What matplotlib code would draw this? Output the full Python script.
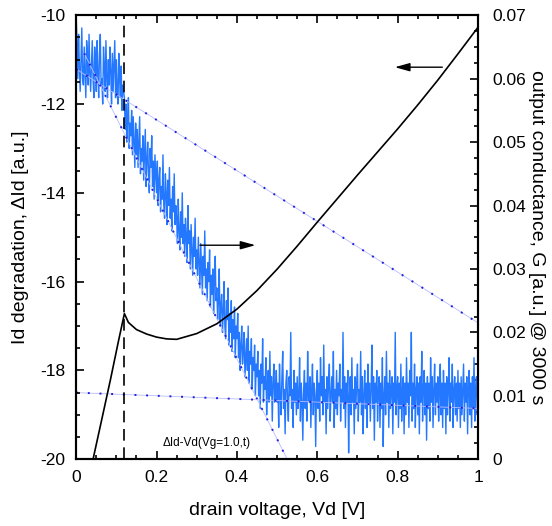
import numpy as np
import matplotlib
matplotlib.use("Agg")
import matplotlib.pyplot as plt
from matplotlib.ticker import MultipleLocator

plt.rcParams['font.family'] = ['Liberation Sans', 'DejaVu Sans']
plt.rcParams['axes.unicode_minus'] = False

# drain voltage vs Id degradation (left axis)
vd_black = [0.042, 0.065, 0.085, 0.105, 0.120, 0.130, 0.150, 0.175, 0.200, 0.225,
            0.250, 0.300, 0.350, 0.400, 0.450, 0.500, 0.550, 0.600, 0.650, 0.700,
            0.750, 0.800, 0.850, 0.900, 0.950, 1.000]
did_black = [-20.0, -19.05, -18.22, -17.35, -16.72, -16.92, -17.08, -17.18, -17.25, -17.29,
             -17.30, -17.17, -16.95, -16.62, -16.20, -15.72, -15.20, -14.66, -14.13, -13.60,
             -13.08, -12.56, -12.02, -11.46, -10.87, -10.27]

# output conductance, noisy trace (right axis), step 0.002 V
g_noise = [
    0.070, 0.066, 0.060, 0.067, 0.062, 0.058, 0.063, 0.068, 0.060, 0.059, 0.065, 0.061, 0.057,
    0.066, 0.064, 0.059, 0.067, 0.061, 0.058, 0.062, 0.066, 0.060, 0.057, 0.065, 0.063,
    0.058, 0.066, 0.061, 0.057, 0.064, 0.067, 0.059, 0.060, 0.056, 0.065, 0.062, 0.058, 0.066,
    0.060, 0.057, 0.063, 0.059, 0.065, 0.061, 0.056, 0.064, 0.058, 0.062, 0.066, 0.057,
    0.063, 0.058, 0.056, 0.064, 0.060, 0.057, 0.062, 0.055, 0.059, 0.058, 0.057, 0.052, 0.056,
    0.050, 0.054, 0.057, 0.049, 0.053, 0.051, 0.055, 0.048, 0.054, 0.050, 0.046, 0.053,
    0.048, 0.052, 0.046, 0.050, 0.054, 0.045, 0.049, 0.047, 0.051, 0.044, 0.048, 0.052, 0.043,
    0.047, 0.050, 0.045, 0.042, 0.049, 0.046, 0.051, 0.043, 0.047, 0.041, 0.048, 0.045,
    0.042, 0.047, 0.040, 0.044, 0.046, 0.039, 0.043, 0.041, 0.048, 0.040, 0.038, 0.045, 0.042,
    0.037, 0.044, 0.040, 0.046, 0.038, 0.041, 0.036, 0.043, 0.039, 0.045, 0.037, 0.040,
    0.038, 0.034, 0.041, 0.036, 0.033, 0.039, 0.035, 0.042, 0.034, 0.037, 0.032, 0.038, 0.035,
    0.031, 0.040, 0.034, 0.036, 0.030, 0.037, 0.033, 0.029, 0.035, 0.032, 0.038, 0.030,
    0.033, 0.029, 0.035, 0.031, 0.027, 0.034, 0.030, 0.026, 0.032, 0.029, 0.036, 0.027, 0.030,
    0.025, 0.031, 0.028, 0.033, 0.024, 0.029, 0.026, 0.030, 0.023, 0.028, 0.032, 0.025,
    0.027, 0.022, 0.025, 0.030, 0.021, 0.024, 0.026, 0.020, 0.023, 0.028, 0.021, 0.019, 0.025,
    0.022, 0.027, 0.018, 0.023, 0.020, 0.025, 0.017, 0.022, 0.019, 0.024, 0.016, 0.021,
    0.019, 0.023, 0.016, 0.020, 0.014, 0.018, 0.021, 0.015, 0.017, 0.020, 0.013, 0.016, 0.019,
    0.014, 0.021, 0.012, 0.017, 0.015, 0.019, 0.011, 0.016, 0.014, 0.018, 0.010, 0.015,
    0.013, 0.017, 0.010, 0.014, 0.008, 0.015, 0.012, 0.019, 0.009, 0.013, 0.011, 0.016, 0.007,
    0.012, 0.014, 0.009, 0.017, 0.010, 0.013, 0.006, 0.012, 0.015, 0.009, 0.011, 0.014,
    0.009, 0.012, 0.005, 0.015, 0.010, 0.007, 0.013, 0.017, 0.008, 0.011, 0.004, 0.012, 0.014,
    0.009, 0.006, 0.013, 0.010, 0.020, 0.008, 0.011, 0.005, 0.014, 0.009, 0.012, 0.007,
    0.013, 0.008, 0.010, 0.016, 0.006, 0.012, 0.009, 0.003, 0.011, 0.014, 0.008, 0.012, 0.006,
    0.017, 0.010, 0.009, 0.013, 0.005, 0.011, 0.015, 0.007, 0.012, 0.010, 0.002, 0.011,
    0.014, 0.008, 0.012, 0.006, 0.016, 0.010, 0.013, 0.007, 0.018, 0.009, 0.011, 0.004, 0.013,
    0.008, 0.012, 0.015, 0.006, 0.010, 0.013, 0.009, 0.017, 0.005, 0.011, 0.008, 0.014,
    0.007, 0.012, 0.010, 0.015, 0.006, 0.011, 0.009, 0.020, 0.008, 0.013, 0.005, 0.012, 0.009,
    0.014, 0.001, 0.010, 0.013, 0.007, 0.016, 0.009, 0.011, 0.004, 0.013, 0.008, 0.012,
    0.015, 0.006, 0.011, 0.009, 0.017, 0.007, 0.013, 0.004, 0.010, 0.014, 0.008, 0.012, 0.005,
    0.015, 0.009, 0.012, 0.006, 0.011, 0.018, 0.008, 0.013, 0.003, 0.012, 0.009, 0.014,
    0.006, 0.011, 0.013, 0.005, 0.012, 0.008, 0.016, 0.002, 0.010, 0.013, 0.007, 0.017, 0.009,
    0.012, 0.005, 0.014, 0.008, 0.011, 0.013, 0.004, 0.012, 0.009, 0.020, 0.007, 0.011,
    0.013, 0.005, 0.012, 0.008, 0.015, 0.006, 0.011, 0.013, 0.004, 0.012, 0.007, 0.016, 0.009,
    0.012, 0.005, 0.014, 0.010, 0.020, 0.006, 0.012, 0.008, 0.015, 0.005, 0.011, 0.013,
    0.007, 0.012, 0.004, 0.013, 0.009, 0.017, 0.006, 0.011, 0.014, 0.007, 0.012, 0.003, 0.013,
    0.008, 0.012, 0.006, 0.016, 0.009, 0.013, 0.005, 0.011, 0.015, 0.007, 0.012, 0.009,
    0.013, 0.006, 0.011, 0.015, 0.007, 0.012, 0.005, 0.014, 0.008, 0.012, 0.004, 0.013, 0.007,
    0.011, 0.016, 0.006, 0.012, 0.009, 0.015, 0.005, 0.011, 0.013, 0.007, 0.012, 0.006,
    0.014, 0.008, 0.012, 0.005, 0.013, 0.007, 0.011, 0.015, 0.006, 0.012, 0.009, 0.013, 0.004,
    0.011, 0.014, 0.007, 0.012, 0.005, 0.013, 0.008, 0.016, 0.006, 0.011, 0.013, 0.007,
    0.009]
vd_noise = [round(i * 0.002, 3) for i in range(len(g_noise))]

# linear fits (right axis)
fit1_x = [0.0, 1.0]
fit1_g = [0.0615, 0.0215]
fit2_x = [0.02, 0.525]
fit2_g = [0.064, 0.0]
fit3_x = [0.0, 1.0]
fit3_g = [0.0105, 0.0080]

vd_knee = 0.12

fig = plt.figure(figsize=(5.52, 5.26), dpi=100)
ax = fig.add_axes([0.138, 0.127, 0.728, 0.844])
ax2 = ax.twinx()
ax.set_zorder(ax2.get_zorder() + 1)
ax.patch.set_visible(False)

ax2.plot(vd_noise, g_noise, color='#2478ff', lw=1.0)
for fx, fg in [(fit1_x, fit1_g), (fit2_x, fit2_g), (fit3_x, fit3_g)]:
    ax2.plot(fx, fg, color='#b8bcff', lw=0.6)
    ax2.plot(fx, fg, color='#2020dd', lw=1.4, linestyle=(0, (1, 5)))

ax.plot(vd_black, did_black, color='black', lw=1.2)
ax.axvline(vd_knee, color='black', lw=1.2, linestyle=(0, (7, 4)))

ax.annotate('', xy=(0.786, -11.17), xytext=(0.918, -11.17),
            arrowprops=dict(arrowstyle='-|>,head_length=0.9,head_width=0.25',
                            color='black', lw=1.0))
ax.annotate('', xy=(0.453, -15.18), xytext=(0.301, -15.18),
            arrowprops=dict(arrowstyle='-|>,head_length=0.9,head_width=0.25',
                            color='black', lw=1.0))
ax.text(0.324, -19.64, 'ΔId-Vd(Vg=1.0,t)', fontsize=8.5, ha='center', va='center')

ax.set_xlim(0, 1)
ax.set_ylim(-20, -10)
ax2.set_ylim(0, 0.07)
ax.xaxis.set_minor_locator(MultipleLocator(0.05))
ax.yaxis.set_major_locator(MultipleLocator(2))
ax.yaxis.set_minor_locator(MultipleLocator(0.5))
ax2.yaxis.set_minor_locator(MultipleLocator(0.0025))
ax.set_xticks([0, 0.2, 0.4, 0.6, 0.8, 1.0])
ax.set_xticklabels(['0', '0.2', '0.4', '0.6', '0.8', '1'])
ax2.set_yticks([0, 0.01, 0.02, 0.03, 0.04, 0.05, 0.06, 0.07])
ax2.set_yticklabels(['0', '0.01', '0.02', '0.03', '0.04', '0.05', '0.06', '0.07'])

ax.tick_params(which='both', direction='in', top=True, labelsize=12.5, width=1.2)
ax.tick_params(which='major', length=6, pad=8)
ax.tick_params(which='minor', length=3)
ax2.tick_params(which='both', direction='in', labelsize=12.5, width=1.2)
ax2.tick_params(which='major', length=6, pad=10)
ax2.tick_params(which='minor', length=3)
for a in (ax, ax2):
    for s in a.spines.values():
        s.set_linewidth(1.5)

ax.set_xlabel('drain voltage, Vd [V]', fontsize=14, labelpad=12)
ax.set_ylabel('Id degradation, ΔId [a.u.]', fontsize=14, labelpad=8)
ax2.set_ylabel('output conductance, G [a.u.] @ 3000 s', fontsize=14,
               rotation=270, labelpad=14)

fig.savefig('out.png', dpi=100)
